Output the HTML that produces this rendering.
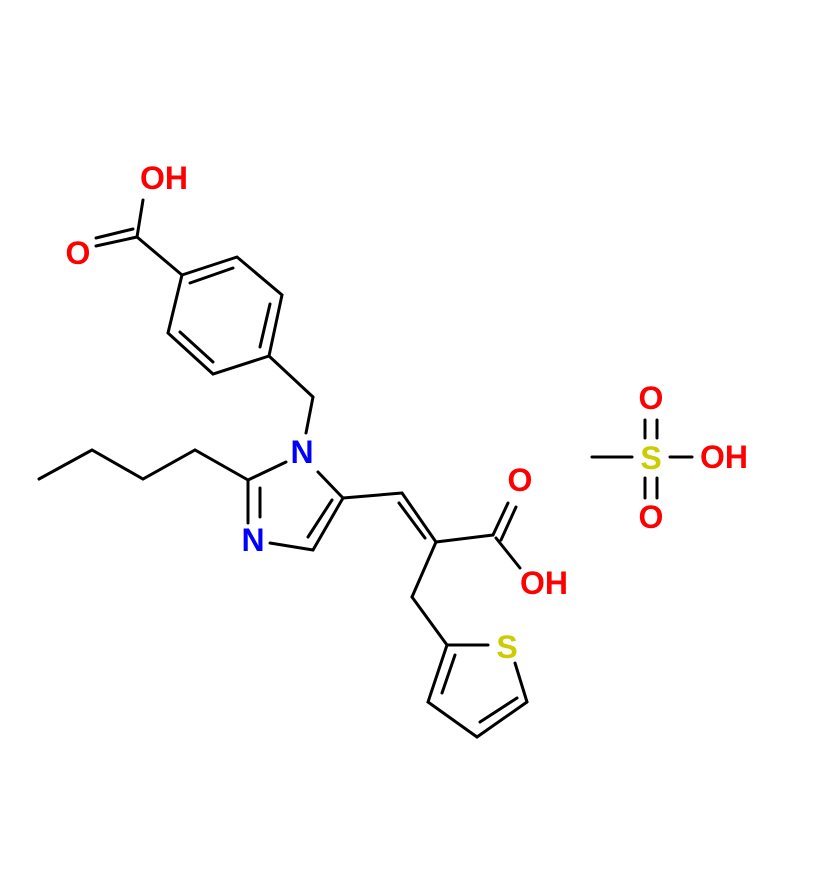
<!DOCTYPE html>
<html><head><meta charset="utf-8"><style>html,body{margin:0;padding:0;background:#fff}</style></head>
<body>
<svg width="826" height="877" viewBox="0 0 826 877" xmlns="http://www.w3.org/2000/svg">
<g stroke="#000" stroke-width="3" fill="none" stroke-linecap="round">
<!-- COOH top -->
<line x1="143" y1="200" x2="137" y2="237"/>
<line x1="137" y1="237" x2="96" y2="246"/>
<line x1="133" y1="229" x2="96" y2="238" />
<line x1="137" y1="237" x2="182" y2="275"/>
<!-- benzene -->
<polyline points="182,275 237,257 282,295 269,356 213,374 168,333 182,275"/>
<line x1="190" y1="283" x2="233" y2="268"/>
<line x1="270" y1="304" x2="260" y2="347"/>
<line x1="180" y1="332" x2="213" y2="362"/>
<line x1="269" y1="356" x2="313" y2="397"/>
<line x1="313" y1="397" x2="306" y2="433"/>
<!-- imidazole -->
<line x1="286" y1="462" x2="248" y2="480"/>
<line x1="318" y1="472" x2="343" y2="498"/>
<line x1="248" y1="480" x2="248" y2="523"/>
<line x1="260" y1="488" x2="260" y2="517"/>
<line x1="270" y1="543" x2="313" y2="550"/>
<line x1="313" y1="550" x2="343" y2="498"/>
<line x1="308" y1="537" x2="332" y2="500"/>
<!-- butyl -->
<polyline points="248,480 195,450 143,479 92,450 39,479"/>
<!-- vinyl acid -->
<line x1="343" y1="498" x2="402" y2="493"/>
<line x1="402" y1="493" x2="436" y2="542"/>
<line x1="399" y1="503" x2="425" y2="538"/>
<line x1="436" y1="542" x2="493" y2="535"/>
<line x1="493" y1="535" x2="508" y2="503"/>
<line x1="501" y1="540" x2="516" y2="507"/>
<line x1="496" y1="538" x2="520" y2="568"/>
<line x1="436" y1="542" x2="412" y2="597"/>
<line x1="412" y1="597" x2="447" y2="645"/>
<!-- thiophene -->
<line x1="447" y1="645" x2="488" y2="645"/>
<line x1="515" y1="663" x2="527" y2="702"/>
<polyline points="527,702 477,737 428,702 447,645"/>
<line x1="455" y1="655" x2="442" y2="693"/>
<line x1="480" y1="722" x2="517" y2="698"/>
<!-- mesyl -->
<line x1="592" y1="457" x2="632" y2="457"/>
<line x1="670" y1="457" x2="692" y2="457"/>
<line x1="645" y1="420" x2="645" y2="438"/>
<line x1="657" y1="420" x2="657" y2="438"/>
<line x1="645" y1="478" x2="645" y2="498"/>
<line x1="657" y1="478" x2="657" y2="498"/>
</g>
<g font-family="Liberation Sans, sans-serif" font-weight="bold" font-size="32" text-anchor="middle" dominant-baseline="central">
<text x="164" y="178" fill="#f00">OH</text>
<text x="78" y="253" fill="#f00">O</text>
<text x="302" y="452" fill="#00f">N</text>
<text x="253" y="540" fill="#00f">N</text>
<text x="520" y="480" fill="#f00">O</text>
<text x="544" y="583" fill="#f00">OH</text>
<text x="507" y="647" fill="#cc0">S</text>
<text x="651" y="458" fill="#cc0">S</text>
<text x="651" y="398" fill="#f00">O</text>
<text x="651" y="517" fill="#f00">O</text>
<text x="724" y="457" fill="#f00">OH</text>
</g>
</svg>
</body></html>
